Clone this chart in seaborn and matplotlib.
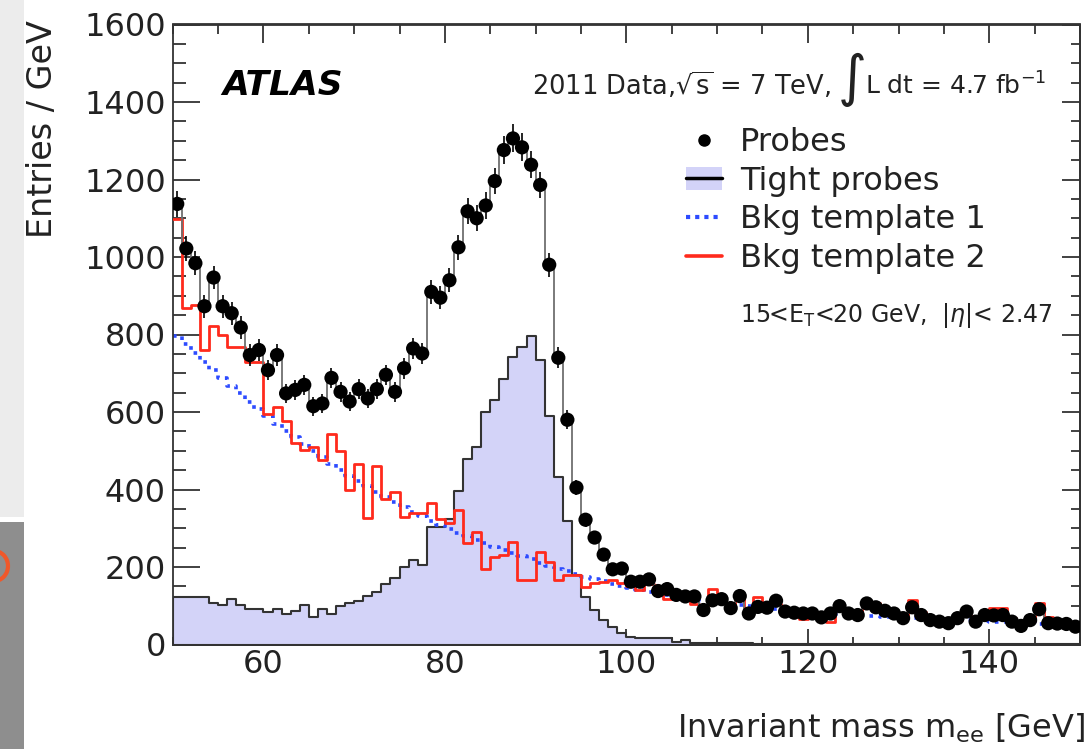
import numpy as np
import pandas as pd
import matplotlib
matplotlib.use("Agg")
import matplotlib.pyplot as plt
import seaborn as sns
from matplotlib.lines import Line2D
from matplotlib.patches import Patch, Rectangle, Arc
from matplotlib.legend_handler import HandlerTuple
from matplotlib.ticker import MultipleLocator

# ---------------- data (1 GeV bins, 50-150 GeV) ----------------
bin_edges = list(range(50, 151))
bin_centers = np.arange(50.5, 150.0, 1.0)

probes = [1137, 1022, 984, 873, 947, 873, 855, 818, 747, 760,
          708, 747, 648, 657, 670, 615, 622, 688, 652, 627,
          659, 635, 659, 696, 652, 713, 764, 751, 910, 895,
          940, 1025, 1118, 1100, 1133, 1196, 1276, 1306, 1283, 1238,
          1186, 980, 740, 580, 405, 322, 276, 232, 194, 196,
          162, 162, 168, 138, 143, 128, 124, 124, 89, 114,
          117, 94, 125, 80, 97, 95, 113, 85, 82, 80,
          80, 70, 80, 99, 80, 76, 106, 96, 87, 80,
          68, 96, 76, 63, 59, 55, 68, 85, 59, 76,
          75, 76, 59, 48, 63, 91, 55, 54, 53, 46]

tight_probes = [123, 123, 123, 123, 106, 102, 117, 102, 91, 91,
                85, 91, 79, 87, 102, 72, 91, 79, 99, 106,
                111, 125, 136, 156, 171, 201, 218, 205, 304, 304,
                325, 396, 480, 509, 600, 631, 685, 742, 767, 797,
                735, 590, 432, 320, 180, 123, 88, 62, 45, 30,
                20, 17, 16, 16, 16, 6, 12, 5, 4, 4,
                3, 3, 3, 3, 2, 2, 2, 2, 2, 2,
                2, 2, 2, 2, 2, 2, 2, 2, 2, 2,
                2, 2, 2, 2, 2, 2, 2, 2, 2, 2,
                2, 2, 2, 2, 2, 2, 2, 2, 2, 2]

bkg_template_1 = [795, 775, 752, 730, 708, 688, 668, 648, 627, 608,
                  590, 570, 552, 535, 518, 500, 483, 467, 450, 435,
                  421, 408, 393, 380, 367, 355, 343, 331, 319, 309,
                  299, 289, 279, 270, 261, 252, 244, 236, 228, 220,
                  210, 203, 196, 189, 182, 175, 169, 163, 157, 151,
                  145, 140, 135, 131, 127, 123, 119, 116, 113, 110,
                  107, 104, 101, 99, 96, 94, 92, 90, 88, 86,
                  84, 82, 80, 79, 77, 76, 74, 73, 72, 70,
                  69, 68, 67, 66, 65, 64, 63, 62, 61, 60,
                  59, 58, 57, 56, 55, 54, 53, 52, 51, 50]

bkg_template_2 = [1097, 868, 876, 760, 823, 799, 769, 769, 730, 730,
                  595, 612, 577, 521, 503, 510, 475, 542, 500, 399,
                  465, 326, 461, 375, 394, 330, 340, 340, 364, 325,
                  313, 347, 263, 290, 195, 227, 231, 265, 166, 166,
                  240, 214, 166, 179, 179, 149, 158, 162, 166, 158,
                  150, 140, 155, 140, 118, 125, 118, 105, 100, 142,
                  110, 100, 118, 95, 123, 100, 105, 90, 80, 65,
                  78, 62, 58, 95, 78, 80, 98, 108, 88, 82,
                  75, 115, 85, 70, 62, 58, 62, 75, 68, 72,
                  95, 95, 68, 55, 60, 107, 72, 60, 52, 50]

legend_labels = ["Probes", "Tight probes", "Bkg template 1", "Bkg template 2"]
x_ticks = [60, 80, 100, 120, 140]
y_ticks = [0, 200, 400, 600, 800, 1000, 1200, 1400, 1600]

df = pd.DataFrame({"mass": bin_centers, "probes": probes, "tight": tight_probes,
                   "bkg1": bkg_template_1, "bkg2": bkg_template_2})

# ---------------- style ----------------
sns.set_theme(style="ticks")
plt.rcParams["font.family"] = ["DejaVu Sans"]
plt.rcParams["mathtext.fontset"] = "dejavusans"

LAV = "#d3d3f8"
RED = "#ff2a1c"
BLUE = "#2d4bff"
DARK = "#333333"

W, H = 1092, 749
fig = plt.figure(figsize=(W / 100, H / 100), dpi=100)
fig.patch.set_facecolor("white")

# left screenshot strip (decoration)
fig.patches.append(Rectangle((0, 1 - 517 / H), 24 / W, 517 / H, transform=fig.transFigure,
                             facecolor="#ececec", edgecolor="none", zorder=-5))
fig.patches.append(Rectangle((0, 0), 24 / W, (H - 522) / H, transform=fig.transFigure,
                             facecolor="#8e8e8e", edgecolor="none", zorder=-5))
fig.patches.append(Arc((-6 / W, 1 - 566 / H), 28 / W, 30 / H, transform=fig.transFigure,
                       color="#f0582a", linewidth=3, zorder=-4))

ax = fig.add_axes([172.7 / W, 1 - 644.5 / H, (1080 - 172.7) / W, (644.5 - 24.5) / H])

sns.histplot(data=df, x="mass", weights="tight", bins=bin_edges, element="step", fill=True,
             facecolor=LAV, edgecolor=DARK, linewidth=1.5, alpha=1.0, ax=ax, zorder=1)
sns.histplot(data=df, x="mass", weights="bkg1", bins=bin_edges, element="step", fill=False,
             color=BLUE, linewidth=2.6, linestyle=(0, (1, 1.6)), ax=ax, zorder=2)
sns.histplot(data=df, x="mass", weights="bkg2", bins=bin_edges, element="step", fill=False,
             color=RED, linewidth=2.0, ax=ax, zorder=3)
sns.histplot(data=df, x="mass", weights="probes", bins=bin_edges, element="step", fill=False,
             color="#707070", linewidth=1.3, ax=ax, zorder=4)
ax.errorbar(df["mass"], df["probes"], yerr=np.sqrt(df["probes"]), fmt="none",
            ecolor="black", elinewidth=1.2, zorder=5)
sns.scatterplot(data=df, x="mass", y="probes", color="black", s=105, edgecolor="none",
                ax=ax, zorder=6)

ax.set_xlim(50, 150)
ax.set_ylim(0, 1600)
ax.set_xlabel("")
ax.set_ylabel("")
ax.set_xticks(x_ticks)
ax.set_yticks(y_ticks)
ax.xaxis.set_minor_locator(MultipleLocator(5))
ax.yaxis.set_minor_locator(MultipleLocator(50))
for s in ax.spines.values():
    s.set_color(DARK)
    s.set_linewidth(1.3)
ax.tick_params(which="both", direction="in", color=DARK, width=1.3, top=False, right=False,
               labelsize=23, labelcolor="#222222")
ax.tick_params(axis="y", which="major", length=19.5, pad=5)
ax.tick_params(axis="y", which="minor", length=9.5)
ax.tick_params(axis="x", which="major", length=11.5, pad=3)
ax.tick_params(axis="x", which="minor", length=5.8)

sec_y = ax.secondary_yaxis("right")
sec_y.yaxis.set_major_locator(MultipleLocator(200))
sec_y.yaxis.set_minor_locator(MultipleLocator(50))
sec_y.tick_params(which="both", direction="in", color=DARK, width=1.3, labelright=False)
sec_y.tick_params(which="major", length=13)
sec_y.tick_params(which="minor", length=6.5)
sec_y.spines["right"].set_color(DARK)
sec_y.spines["right"].set_linewidth(1.3)

sec_x = ax.secondary_xaxis("top")
sec_x.xaxis.set_major_locator(MultipleLocator(20))
sec_x.xaxis.set_minor_locator(MultipleLocator(5))
sec_x.tick_params(which="both", direction="in", color=DARK, width=1.3, labeltop=False)
sec_x.tick_params(which="major", length=13.5)
sec_x.tick_params(which="minor", length=7)
sec_x.spines["top"].set_color(DARK)
sec_x.spines["top"].set_linewidth(1.3)

# axis titles (ROOT style)
fig.text(43 / W, 1 - 20 / H, "Entries / GeV", rotation=90, ha="center", va="top",
         fontsize=24, color="#222222")
fig.text(1085 / W, 1 - 738 / H, r"Invariant mass m$_{\mathrm{ee}}$ [GeV]", ha="right",
         va="baseline", fontsize=23, color="#222222")

# annotations
fig.text(222 / W, 1 - 95 / H, "ATLAS", fontsize=24.8, fontweight="bold", fontstyle="italic",
         va="baseline", ha="left", color="black")
fig.text(532 / W, 1 - 95 / H, r"2011 Data,$\sqrt{\mathrm{s}}$ = 7 TeV,", fontsize=18.5,
         va="baseline", ha="left", color="#222222")
fig.text(852 / W, 1 - 80 / H, "\u222b", fontsize=40, va="center", ha="center", color="#222222")
fig.text(1046 / W, 1 - 95 / H, r"L dt = 4.7 fb$^{\mathrm{-1}}$", fontsize=18,
         va="baseline", ha="right", color="#222222")
fig.text(740 / W, 1 - 322 / H, r"15<E$_{\mathrm{T}}$<20 GeV,  |$\eta$|< 2.47", fontsize=17,
         va="baseline", ha="left", color="#222222")

# legend
handles = [
    Line2D([], [], marker="o", color="black", linestyle="none", markersize=8),
    (Patch(facecolor=LAV, edgecolor="none"), Line2D([], [], color="black", linewidth=2.5)),
    Line2D([], [], color=BLUE, linestyle=(0, (1, 1.2)), linewidth=3),
    Line2D([], [], color=RED, linewidth=2.6),
]
leg = ax.legend(handles, legend_labels, loc="upper left",
                bbox_to_anchor=(686 / W, 1 - 127 / H), bbox_transform=fig.transFigure,
                frameon=False, fontsize=23, handlelength=1.13, handletextpad=0.56,
                labelspacing=0.24, borderpad=0, borderaxespad=0,
                handler_map={tuple: HandlerTuple(ndivide=1, pad=0)})
for t in leg.get_texts():
    t.set_color("#222222")

fig.savefig("out.png", dpi=100)
